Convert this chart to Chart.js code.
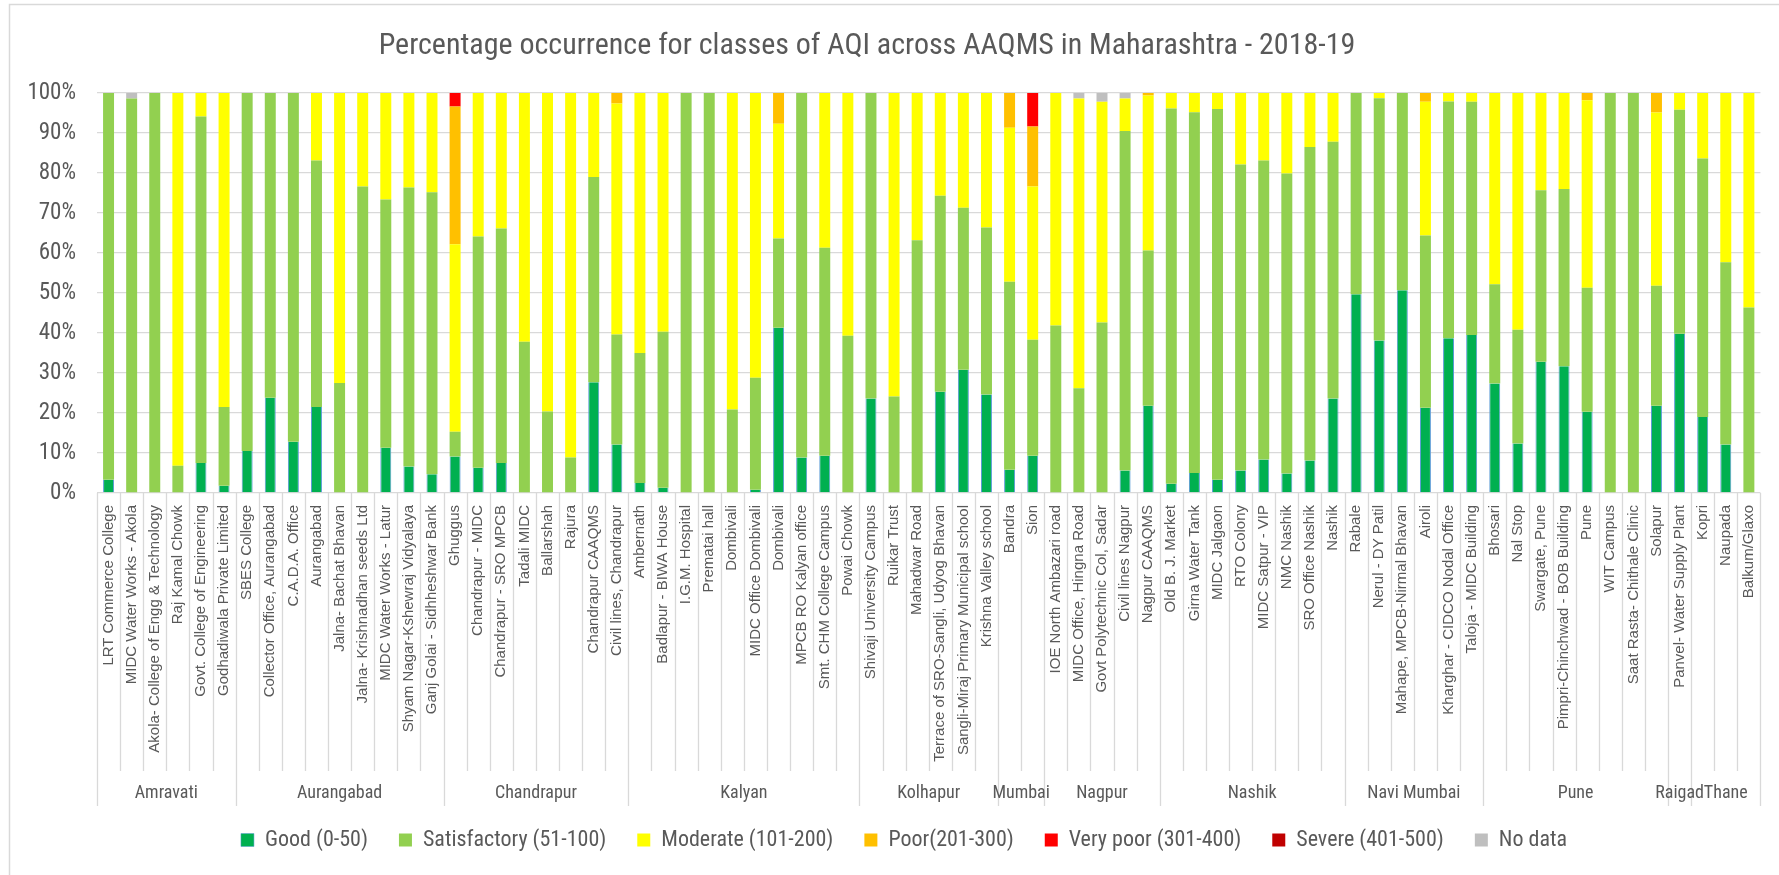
<!DOCTYPE html>
<html>
<head>
<meta charset="utf-8">
<script src="https://cdn.jsdelivr.net/npm/chart.js@4.4.1/dist/chart.umd.min.js"></script>
<style>
  html, body { margin: 0; padding: 0; background: #ffffff; }
  #wrap { width: 1779px; height: 875px; }
</style>
</head>
<body>
<div id="wrap"><canvas id="c" width="1779" height="875"></canvas></div>
<script>
const TITLE = 'Percentage occurrence for classes of AQI across AAQMS in Maharashtra - 2018-19';

const categories = [
  'LRT Commerce College','MIDC Water Works - Akola','Akola- College of Engg & Technology','Raj Kamal Chowk','Govt. College of Engineering','Godhadiwala Private Limited',
  'SBES College','Collector Office, Aurangabad','C.A.D.A. Office','Aurangabad','Jalna- Bachat Bhavan','Jalna- Krishnadhan seeds Ltd','MIDC Water Works - Latur','Shyam Nagar-Kshewraj Vidyalaya','Ganj Golai - Sidhheshwar Bank',
  'Ghuggus','Chandrapur - MIDC','Chandrapur - SRO MPCB','Tadali MIDC','Ballarshah','Rajura','Chandrapur CAAQMS','Civil lines, Chandrapur',
  'Ambernath','Badlapur - BIWA House','I.G.M. Hospital','Prematai hall','Dombivali','MIDC Office Dombivali','Dombivali','MPCB RO Kalyan office','Smt. CHM College Campus','Powai Chowk',
  'Shivaji University Campus','Ruikar Trust','Mahadwar Road','Terrace of SRO-Sangli, Udyog Bhavan','Sangli-Miraj Primary Municipal school','Krishna Valley school',
  'Bandra','Sion',
  'IOE North Ambazari road','MIDC Office, Hingna Road','Govt Polytechnic Col, Sadar','Civil lines Nagpur','Nagpur CAAQMS',
  'Old B. J. Market','Girna Water Tank','MIDC Jalgaon','RTO Colony','MIDC Satpur - VIP','NMC Nashik','SRO Office Nashik','Nashik',
  'Rabale','Nerul - DY Patil','Mahape, MPCB-Nirmal Bhavan','Airoli','Kharghar - CIDCO Nodal Office','Taloja - MIDC Building',
  'Bhosari','Nal Stop','Swargate, Pune','Pimpri-Chinchwad - BOB Building','Pune','WIT Campus','Saat Rasta- Chithale Clinic','Solapur',
  'Panvel- Water Supply Plant',
  'Kopri','Naupada','Balkum/Glaxo'
];

const groupNames  = ['Amravati','Aurangabad','Chandrapur','Kalyan','Kolhapur','Mumbai','Nagpur','Nashik','Navi Mumbai','Pune','Raigad','Thane'];
const groupSizes  = [6, 9, 8, 10, 6, 2, 5, 8, 6, 8, 1, 3];

const seriesNames = ['Good (0-50)','Satisfactory (51-100)','Moderate (101-200)','Poor(201-300)','Very poor (301-400)','Severe (401-500)','No data'];

const good = [3.3,0,0,0,7.5,1.8, 10.5,23.8,12.8,21.5,0,0,11.3,6.6,4.7, 9.1,6.3,7.5,0,0,0,27.7,12.1,
  2.5,1.3,0,0,0,0.8,41.3,8.9,9.3,0, 23.6,0,0,25.3,30.8,24.6, 5.8,9.3, 0,0,0,5.6,21.8,
  2.3,5.0,3.3,5.6,8.4,4.9,8.1,23.6, 49.7,38.1,50.7,21.3,38.7,39.5, 27.4,12.4,32.8,31.7,20.3,0,0,21.8, 39.8, 19.0,12.1,0];

const satisfactory = [96.7,98.6,100,6.8,86.6,19.7, 89.5,76.2,87.2,61.6,27.5,76.6,62.1,69.8,70.5, 6.2,57.8,58.6,37.8,20.4,8.9,51.3,27.5,
  32.5,39.0,100,100,20.9,28.0,22.3,91.1,52.0,39.3, 76.4,24.1,63.2,49.0,40.5,41.8, 47.0,29.0, 41.9,26.2,42.6,84.9,38.8,
  93.8,90.2,92.7,76.5,74.7,75.0,78.4,64.2, 50.3,60.6,49.3,43.1,59.2,58.3, 24.8,28.4,42.9,44.3,31.0,100,100,30.0, 56.0, 64.6,45.6,46.4];

const moderate = [0,0,0,93.2,5.9,78.5, 0,0,0,16.9,72.5,23.4,26.6,23.6,24.8, 46.9,35.9,33.9,62.2,79.6,91.1,21.0,57.8,
  65.0,59.7,0,0,79.1,71.2,28.7,0,38.7,60.7, 0,75.9,36.8,25.7,28.7,33.6, 38.5,38.3, 58.1,72.4,55.2,8.1,38.8,
  3.9,4.8,4.0,17.9,16.9,20.1,13.5,12.2, 0,1.3,0,33.4,2.1,2.2, 47.8,59.2,24.3,24.0,46.9,0,0,43.3, 4.2, 16.4,42.3,53.6];

const poor = [0,0,0,0,0,0, 0,0,0,0,0,0,0,0,0, 34.4,0,0,0,0,0,0,2.6,
  0,0,0,0,0,0,7.7,0,0,0, 0,0,0,0,0,0, 8.7,15.0, 0,0,0,0,0.6,
  0,0,0,0,0,0,0,0, 0,0,0,2.2,0,0, 0,0,0,0,1.8,0,0,4.9, 0, 0,0,0];

const veryPoor = [0,0,0,0,0,0, 0,0,0,0,0,0,0,0,0, 3.4,0,0,0,0,0,0,0,
  0,0,0,0,0,0,0,0,0,0, 0,0,0,0,0,0, 0,8.4, 0,0,0,0,0,
  0,0,0,0,0,0,0,0, 0,0,0,0,0,0, 0,0,0,0,0,0,0,0, 0, 0,0,0];

const severe = [0,0,0,0,0,0, 0,0,0,0,0,0,0,0,0, 0,0,0,0,0,0,0,0,
  0,0,0,0,0,0,0,0,0,0, 0,0,0,0,0,0, 0,0, 0,0,0,0,0,
  0,0,0,0,0,0,0,0, 0,0,0,0,0,0, 0,0,0,0,0,0,0,0, 0, 0,0,0];

const noData = [0,1.4,0,0,0,0, 0,0,0,0,0,0,0,0,0, 0,0,0,0,0,0,0,0,
  0,0,0,0,0,0,0,0,0,0, 0,0,0,0,0,0, 0,0, 0,1.4,2.2,1.4,0,
  0,0,0,0,0,0,0,0, 0,0,0,0,0,0, 0,0,0,0,0,0,0,0, 0, 0,0,0];

const yTicks = [0,10,20,30,40,50,60,70,80,90,100];

const seriesColors = ['#00B050','#92D050','#FFFF00','#FFC000','#FF0000','#C00000','#BFBFBF'];
const seriesValues = [good, satisfactory, moderate, poor, veryPoor, severe, noData];

const NARROW = '"Roboto Condensed", "Liberation Sans Narrow", "Arial Narrow", "Liberation Sans", sans-serif';
const REGULAR = '"Liberation Sans", Arial, sans-serif';
const TXT = '#595959';
const GRID = '#D9D9D9';
const LEGEND_SHIFT = 23;
const TITLE_SHIFT = -14;

const datasets = seriesNames.map((name, i) => ({
  label: name,
  data: seriesValues[i],
  backgroundColor: seriesColors[i],
  borderColor: i === 0 ? '#5B9BD5' : seriesColors[i],
  borderWidth: i === 0 ? {left: 1, right: 1, top: 0, bottom: 0} : 0,
  borderSkipped: false,
  barPercentage: 0.475,
  categoryPercentage: 1.0
}));

const frame = {
  id: 'frame',
  beforeDraw(chart) {
    const c = chart.ctx;
    c.save();
    c.fillStyle = '#ffffff';
    c.fillRect(0, 0, chart.width, chart.height);
    c.strokeStyle = GRID;
    c.lineWidth = 1.5;
    c.beginPath();
    c.moveTo(9.5, chart.height);
    c.lineTo(9.5, 4.5);
    c.lineTo(chart.width, 4.5);
    c.stroke();
    c.restore();
  },
  afterLayout(chart) {
    if (chart.legend) { chart.legend.left += LEGEND_SHIFT; chart.legend.right += LEGEND_SHIFT; }
    if (chart.titleBlock) { chart.titleBlock.left += TITLE_SHIFT; chart.titleBlock.right += TITLE_SHIFT; }
  }
};

const groupAxis = {
  id: 'groupAxis',
  afterDraw(chart) {
    const xs = chart.scales.x;
    const c = chart.ctx;
    const n = categories.length;
    const step = xs.width / n;
    const base = chart.chartArea.bottom;
    const boundaries = new Set([0]);
    let acc = 0;
    groupSizes.forEach(s => { acc += s; boundaries.add(acc); });
    c.save();
    c.strokeStyle = GRID;
    c.lineWidth = 1.3;
    for (let i = 0; i <= n; i++) {
      const x = Math.round(xs.getPixelForValue(Math.min(i, n - 1)) + (i === n ? step / 2 : -step / 2)) + 0.5;
      const y2 = boundaries.has(i) ? base + 313 : base + 278;
      c.beginPath();
      c.moveTo(x, base);
      c.lineTo(x, y2);
      c.stroke();
    }
    c.fillStyle = TXT;
    c.font = '18px ' + NARROW;
    c.textAlign = 'center';
    c.textBaseline = 'middle';
    let start = 0;
    groupNames.forEach((g, k) => {
      const end = start + groupSizes[k] - 1;
      const x0 = xs.getPixelForValue(start) - step / 2;
      const x1 = xs.getPixelForValue(end) + step / 2;
      c.fillText(g, (x0 + x1) / 2, base + 300);
      start = end + 1;
    });
    c.restore();
  }
};

new Chart(document.getElementById('c'), {
  type: 'bar',
  data: { labels: categories, datasets },
  options: {
    responsive: false,
    animation: false,
    devicePixelRatio: 1,
    layout: { padding: { left: 0, right: 17, top: 0, bottom: 14 } },
    plugins: {
      title: {
        display: true, text: TITLE, color: TXT,
        font: { family: NARROW, size: 30, weight: 'normal' },
        padding: { top: 28, bottom: 29 }
      },
      legend: {
        position: 'bottom',
        labels: { color: TXT, font: { family: NARROW, size: 22 }, boxWidth: 13, boxHeight: 13, padding: 31 }
      },
      tooltip: { enabled: false }
    },
    scales: {
      x: {
        stacked: true,
        grid: { display: false, drawTicks: false },
        border: { display: false },
        ticks: { autoSkip: false, maxRotation: 90, minRotation: 90, color: TXT, font: { family: REGULAR, size: 15 }, padding: 12 },
        afterFit(s) { s.height = 305; }
      },
      y: {
        stacked: true, min: 0, max: 100,
        afterBuildTicks(s) { s.ticks = yTicks.map(v => ({ value: v })); },
        ticks: { callback: v => v + '%', color: TXT, font: { family: NARROW, size: 23 }, padding: 21 },
        grid: { color: GRID, lineWidth: 1.3, drawTicks: false },
        border: { display: false },
        afterFit(s) { s.width = 97; }
      }
    }
  },
  plugins: [frame, groupAxis]
});
</script>
</body>
</html>
